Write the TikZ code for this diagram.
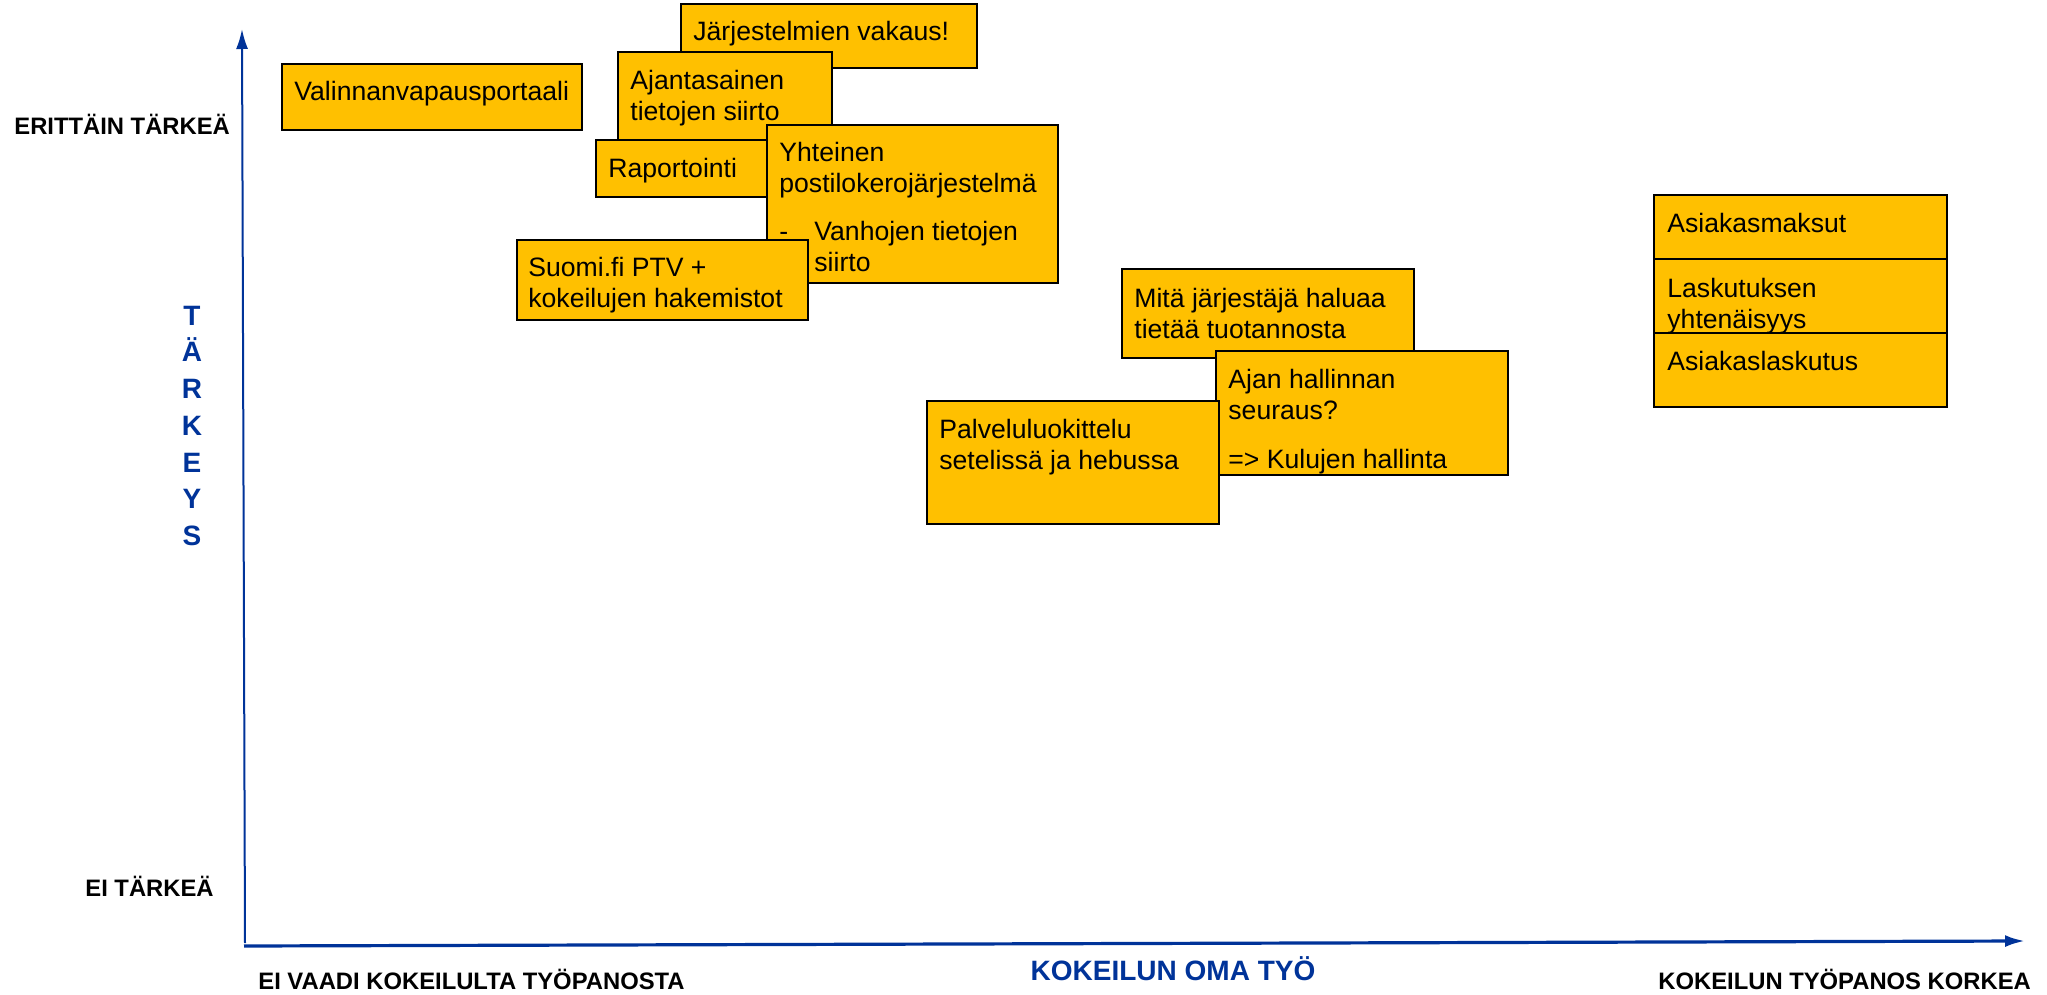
\documentclass[tikz,border=0pt]{standalone}
\usepackage{fontspec}
\setmainfont{Liberation Sans}
\usetikzlibrary{arrows.meta,fit}
\definecolor{boxfill}{HTML}{FFC000}
\definecolor{axisblue}{HTML}{003399}
\newcommand{\mlines}[1]{\begin{tabular}[t]{@{}l@{}}#1\end{tabular}}
\tikzset{
 box/.style={draw=black, line width=0.9pt, fill=boxfill, inner sep=0pt},
 txt/.style={inner sep=0pt, anchor=base west, font=\fontsize{13.3}{15.5}\selectfont, text=black},
 lbl/.style={inner sep=0pt, anchor=base west, font=\fontsize{11.9}{14}\selectfont\bfseries, text=black},
 bluelbl/.style={inner sep=0pt, font=\fontsize{14}{18.4}\selectfont\bfseries, text=axisblue},
 axisline/.style={draw=axisblue, -{Latex[length=10pt,width=6pt]}},
}
\begin{document}
\begin{tikzpicture}[x=0.5pt,y=-0.5pt]
\useasboundingbox (0,0) rectangle (2047,995);

% axes
\coordinate (yo) at (245,943);
\coordinate (ytop) at (242,29);
\coordinate (xo) at (244,946);
\coordinate (xend) at (2025,941);
\draw[axisline, line width=1pt] (yo) -- (ytop);
\draw[axisline, line width=1.6pt] (xo) -- (xend);

% axis labels
\node[lbl] (erit) at (14,134) {ERITTÄIN TÄRKEÄ};
\node[lbl] (ei) at (85,896) {EI TÄRKEÄ};
\node[lbl] (eivaadi) at (258,989) {EI VAADI KOKEILULTA TYÖPANOSTA};
\node[lbl] (korkea) at (1658,989) {KOKEILUN TYÖPANOS KORKEA};
\node[bluelbl, anchor=base] (omatyo) at (1173,980) {KOKEILUN OMA TYÖ};
\node[bluelbl, anchor=base] (tarkeys) at (192,325) {\begin{tabular}[t]{@{}c@{}}T\\Ä\\R\\K\\E\\Y\\S\end{tabular}};

% boxes
\node[box, fit={(282,64) (582,130)}] (b1) {};
\node[txt] (t1) at (294,101) {Valinnanvapausportaali};

\node[box, fit={(681,4) (977,68)}] (b2) {};
\node[txt] (t2) at (693,41) {Järjestelmien vakaus!};

\node[box, fit={(618,52) (832,145)}] (b3) {};
\node[txt] (t3) at (630,90) {\mlines{Ajantasainen\\tietojen siirto}};

\node[box, fit={(596,140) (790,197)}] (b4) {};
\node[txt] (t4) at (608,177) {Raportointi};

\node[box, fit={(767,125) (1058,283)}] (b5) {};
\node[txt] (t5) at (779,162) {\mlines{Yhteinen\\postilokerojärjestelmä}};
\node[txt] (t5d) at (779,241) {-};
\node[txt] (t5b) at (814,241) {\mlines{Vanhojen tietojen\\siirto}};

\node[box, fit={(517,240) (808,320)}] (b6) {};
\node[txt] (t6) at (528,277) {\mlines{Suomi.fi PTV +\\kokeilujen hakemistot}};

\node[box, fit={(1122,269) (1414,358)}] (b7) {};
\node[txt] (t7) at (1134,307) {\mlines{Mitä järjestäjä haluaa\\tietää tuotannosta}};

\node[box, fit={(1216,351) (1508,475)}] (b8) {};
\node[txt] (t8) at (1228,388) {\mlines{Ajan hallinnan\\seuraus?\\[9pt]=> Kulujen hallinta}};

\node[box, fit={(927,401) (1219,524)}] (b9) {};
\node[txt] (t9) at (939,438) {\mlines{Palveluluokittelu\\setelissä ja hebussa}};

\node[box, fit={(1654,195) (1947,259)}] (b10) {};
\node[txt] (t10) at (1667,233) {Asiakasmaksut};

\node[box, fit={(1654,259) (1947,333)}] (b11) {};
\node[txt] (t11) at (1667,297) {\mlines{Laskutuksen\\yhtenäisyys}};

\node[box, fit={(1654,333) (1947,407)}] (b12) {};
\node[txt] (t12) at (1667,370) {Asiakaslaskutus};
\end{tikzpicture}
\end{document}
